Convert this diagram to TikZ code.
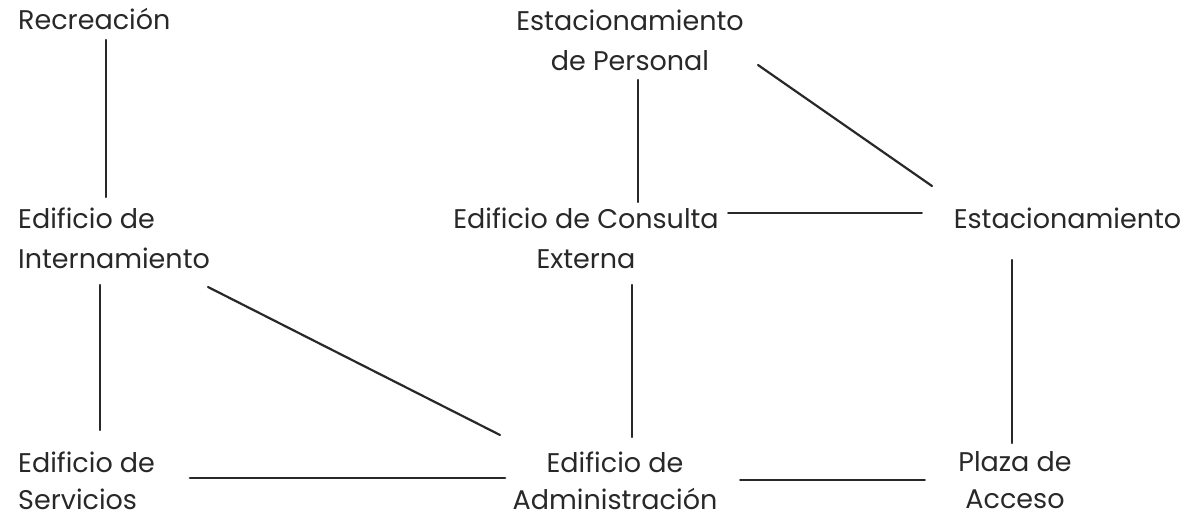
\documentclass[tikz,border=0pt]{standalone}
\usepackage{fontspec}
\setmainfont{Poppins}
\usetikzlibrary{calc}
\definecolor{ink}{RGB}{40,40,40}
\tikzset{
  lbl/.style={inner sep=0pt, text=ink, font=\fontsize{27}{40}\selectfont},
  lblb/.style={inner sep=0pt, text=ink, font=\fontsize{27}{37}\selectfont},
  conn/.style={draw=ink, line width=2.2pt, line cap=round}
}
\begin{document}
\begin{tikzpicture}[x=1pt,y=-1pt]
\useasboundingbox (0,0) rectangle (1199,520);
% nodes
\node[lbl, anchor=west] (rec) at (18,18.6) {Recreación};
\node[lbl, align=center] (per) at (630,40.6) {Estacionamiento\\de Personal};
\node[lbl, anchor=west, align=left] (int) at (18,238.6) {Edificio de\\Internamiento};
\node[lbl, align=center] (con) at (586,238.6) {Edificio de Consulta\\Externa};
\node[lbl] (est) at (1067.5,218.6) {Estacionamiento};
\node[lblb, anchor=west, align=left] (ser) at (18,480.6) {Edificio de\\Servicios};
\node[lblb, align=center] (adm) at (615,480.6) {Edificio de\\Administración};
\node[lblb, align=center] (pla) at (1015,480.6) {Plaza de\\Acceso};
% connectors
\draw[conn] ($(rec.west)+(88,21.4)$) -- ($(int.west)+(88,-41.6)$);
\draw[conn] ($(per)+(8,39.4)$) -- ($(con)+(52,-36.6)$);
\draw[conn] ($(per)+(128,24.4)$) -- ($(est)+(-135.5,-32.6)$);
\draw[conn, line width=1.8pt] ($(con)+(142,-25.6)$) -- ($(est)+(-145.5,-5.6)$);
\draw[conn] ($(est)+(-55.5,41.4)$) -- ($(pla)+(-3,-37.6)$);
\draw[conn] ($(int.west)+(82,46.4)$) -- ($(ser.west)+(82,-50.6)$);
\draw[conn] ($(int.west)+(190,48.4)$) -- ($(adm)+(-115,-45.6)$);
\draw[conn] ($(con)+(46,46.4)$) -- ($(adm)+(17,-43.6)$);
\draw[conn, line width=2.8pt] ($(ser.west)+(172,-2.6)$) -- ($(adm)+(-110,-2.6)$);
\draw[conn, line width=1.8pt] ($(adm)+(125,-0.6)$) -- ($(pla)+(-90,-0.6)$);
\end{tikzpicture}
\end{document}
